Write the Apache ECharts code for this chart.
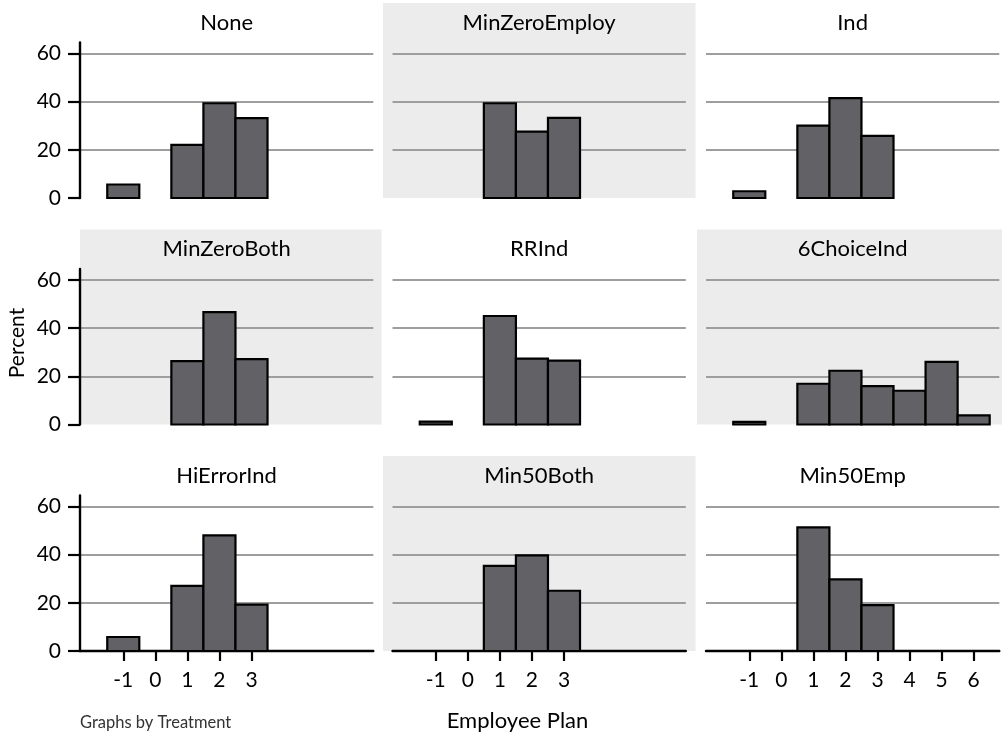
<!DOCTYPE html>
<html>
<head>
<meta charset="utf-8">
<script src="https://cdn.jsdelivr.net/npm/echarts@6/dist/echarts.min.js"></script>
<style>
html,body{margin:0;padding:0;background:#fff;}
#chart{width:1002px;height:735px;}
</style>
</head>
<body>
<div id="chart"></div>
<script>
// ---- data ----
const categories = [-1, 0, 1, 2, 3, 4, 5, 6];
const panelNames = ['None', 'MinZeroEmploy', 'Ind', 'MinZeroBoth', 'RRInd', '6ChoiceInd', 'HiErrorInd', 'Min50Both', 'Min50Emp'];
const pctNone          = [5.6, null, 22.0, 39.3, 33.1, null, null, null];
const pctMinZeroEmploy = [null, null, 39.3, 27.5, 33.2, null, null, null];
const pctInd           = [2.8, null, 30.0, 41.4, 25.8, null, null, null];
const pctMinZeroBoth   = [null, null, 26.3, 46.6, 27.1, null, null, null];
const pctRRInd         = [1.2, null, 45.0, 27.3, 26.5, null, null, null];
const pct6ChoiceInd    = [1.1, null, 16.9, 22.3, 15.9, 14.0, 26.0, 3.8];
const pctHiErrorInd    = [5.8, null, 27.0, 48.0, 19.2, null, null, null];
const pctMin50Both     = [null, null, 35.3, 39.7, 25.0, null, null, null];
const pctMin50Emp      = [null, null, 51.3, 29.7, 19.0, null, null, null];
const yTickValues = [0, 20, 40, 60];
const xTicksLeft   = [-1, 0, 1, 2, 3];
const xTicksMiddle = [-1, 0, 1, 2, 3];
const xTicksRight  = [-1, 0, 1, 2, 3, 4, 5, 6];

const panelData = [pctNone, pctMinZeroEmploy, pctInd, pctMinZeroBoth, pctRRInd, pct6ChoiceInd, pctHiErrorInd, pctMin50Both, pctMin50Emp];
const bottomTicks = [xTicksLeft, xTicksMiddle, xTicksRight];

// ---- layout ----
const FONT = 'Lato';
const COL_X = [80, 392.5, 706];
const COL_W = 293.3;
const ROW_Y = [42.5, 269, 495.5];
const ROW_H = 155.5;
const BOX_X = [[80, 381.5], [383, 695.5], [697, 1002]];
const X_MIN = -2.35, X_MAX = 6.8, Y_MAX = 64.5;

const grids = [], xAxes = [], yAxes = [], series = [], graphics = [];

for (let i = 0; i < 9; i++) {
  const r = Math.floor(i / 3), c = i % 3;
  const left = COL_X[c], top = ROW_Y[r];
  grids.push({ left: left, top: top, width: COL_W, height: ROW_H, containLabel: false });

  if (i % 2 === 1) {
    graphics.push({
      type: 'rect', z: -10, silent: true,
      shape: { x: BOX_X[c][0], y: top - 39.5, width: BOX_X[c][1] - BOX_X[c][0], height: ROW_H + 39.5 },
      style: { fill: '#ececec' }
    });
  }
  graphics.push({
    type: 'text', silent: true,
    x: left + COL_W / 2, y: top - 20,
    style: { text: panelNames[i], font: '22px ' + FONT, fill: '#000', align: 'center', verticalAlign: 'middle' }
  });

  const isBottom = r === 2, isLeft = c === 0;
  xAxes.push({
    type: 'value', gridIndex: i, min: X_MIN, max: X_MAX,
    axisLine: { show: isBottom, onZero: false, lineStyle: { color: '#000', width: 2.4 } },
    axisTick: { show: isBottom, length: 10, customValues: bottomTicks[c], lineStyle: { color: '#000', width: 2.2 } },
    axisLabel: { show: isBottom, customValues: bottomTicks[c], margin: 19, fontFamily: FONT, fontSize: 21, color: '#000' },
    splitLine: { show: false }
  });
  yAxes.push({
    type: 'value', gridIndex: i, min: 0, max: Y_MAX, interval: 20,
    axisLine: { show: isLeft, onZero: false, lineStyle: { color: '#000', width: 2.4 } },
    axisTick: { show: isLeft, length: 12, customValues: yTickValues, lineStyle: { color: '#000', width: 2.2 } },
    axisLabel: { show: isLeft, customValues: yTickValues, margin: 19, fontFamily: FONT, fontSize: 21, color: '#000' },
    splitLine: { show: true, showMinLine: false, lineStyle: { color: '#9e9e9e', width: 2 } }
  });

  const pts = [];
  categories.forEach((cat, k) => { if (panelData[i][k] != null) pts.push([cat, panelData[i][k]]); });
  series.push({
    type: 'custom', xAxisIndex: i, yAxisIndex: i, data: pts,
    encode: { x: 0, y: 1 },
    renderItem: function (params, api) {
      const x = api.value(0), y = api.value(1);
      const p0 = api.coord([x - 0.5, y]);
      const p1 = api.coord([x + 0.5, 0]);
      return {
        type: 'rect',
        shape: { x: p0[0], y: p0[1], width: p1[0] - p0[0], height: p1[1] - p0[1] },
        style: { fill: '#626266', stroke: '#000', lineWidth: 2.2 }
      };
    }
  });
}

graphics.push({
  type: 'text', silent: true, x: 17, y: 343, rotation: Math.PI / 2,
  style: { text: 'Percent', font: '21px ' + FONT, fill: '#000', align: 'center', verticalAlign: 'middle' }
});
graphics.push({
  type: 'text', silent: true, x: 517.5, y: 721,
  style: { text: 'Employee Plan', font: '22px ' + FONT, fill: '#000', align: 'center', verticalAlign: 'middle' }
});
graphics.push({
  type: 'text', silent: true, x: 80, y: 723,
  style: { text: 'Graphs by Treatment', font: '16.5px ' + FONT, fill: '#333', align: 'left', verticalAlign: 'middle' }
});

const chart = echarts.init(document.getElementById('chart'), null, { renderer: 'canvas' });
chart.setOption({
  animation: false,
  backgroundColor: '#fff',
  grid: grids,
  xAxis: xAxes,
  yAxis: yAxes,
  series: series,
  graphic: graphics
});
</script>
</body>
</html>
